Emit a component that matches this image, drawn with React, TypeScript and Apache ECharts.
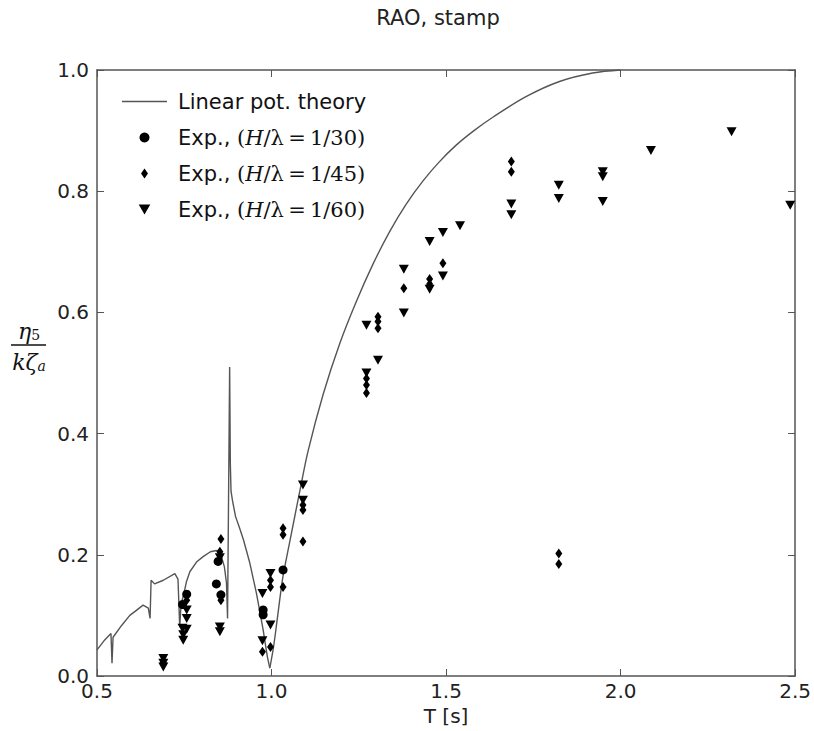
import React, { useEffect, useRef } from "react";
import * as echarts from "echarts";

// Linear potential theory curve, resonant part: [T, eta5/(k zeta_a)]
const theoryLow: number[][] = [
  [0.5, 0.043], [0.52, 0.058], [0.54, 0.07], [0.543, 0.021], [0.546, 0.064],
  [0.57, 0.083], [0.594, 0.1], [0.61, 0.107], [0.632, 0.117], [0.647, 0.112],
  [0.652, 0.095], [0.655, 0.158], [0.665, 0.152], [0.69, 0.158], [0.723, 0.169],
  [0.732, 0.16], [0.737, 0.081], [0.741, 0.12], [0.747, 0.131], [0.756, 0.155],
  [0.766, 0.172], [0.785, 0.188], [0.804, 0.197], [0.825, 0.205], [0.842, 0.207],
  [0.855, 0.2], [0.865, 0.18], [0.871, 0.153], [0.874, 0.095], [0.877, 0.3],
  [0.88, 0.51], [0.882, 0.35], [0.884, 0.305], [0.888, 0.29], [0.897, 0.263],
  [0.908, 0.245], [0.92, 0.224], [0.938, 0.186], [0.957, 0.136], [0.976, 0.076],
  [0.988, 0.032], [0.995, 0.013],
];

// Linear potential theory curve, smooth rising part
const theoryHigh: number[][] = [
  [0.995, 0.013], [1.005, 0.045], [1.014, 0.083], [1.024, 0.128], [1.033, 0.165],
  [1.05, 0.215], [1.062, 0.25], [1.081, 0.305], [1.105, 0.372], [1.148, 0.465],
  [1.195, 0.548], [1.243, 0.618], [1.291, 0.68], [1.338, 0.733], [1.385, 0.778],
  [1.434, 0.817], [1.48, 0.848], [1.529, 0.876], [1.58, 0.9], [1.634, 0.922],
  [1.729, 0.956], [1.825, 0.981], [1.92, 0.995], [2.0, 1.0],
];

// Experiments H/lambda = 1/30 (circles)
const exp30: number[][] = [
  [0.757, 0.135], [0.745, 0.118], [0.847, 0.189], [0.842, 0.152], [0.855, 0.134],
  [0.976, 0.109], [0.976, 0.101], [1.033, 0.175],
];

// Experiments H/lambda = 1/45 (thin diamonds)
const exp45: number[][] = [
  [0.855, 0.226], [0.852, 0.205], [0.855, 0.125], [0.997, 0.158], [0.997, 0.147],
  [0.974, 0.04], [0.997, 0.048], [1.033, 0.244], [1.033, 0.233], [1.033, 0.147],
  [1.09, 0.282], [1.09, 0.274], [1.09, 0.222], [1.272, 0.491], [1.272, 0.48],
  [1.272, 0.467], [1.305, 0.593], [1.305, 0.585], [1.305, 0.574], [1.379, 0.64],
  [1.453, 0.655], [1.453, 0.647], [1.491, 0.681], [1.687, 0.849], [1.687, 0.832],
  [1.823, 0.202], [1.823, 0.185], [0.69, 0.022], [0.757, 0.125],
];

// Experiments H/lambda = 1/60 (down triangles)
const exp60: number[][] = [
  [0.69, 0.029], [0.69, 0.021], [0.69, 0.015], [0.757, 0.109], [0.757, 0.095],
  [0.745, 0.079], [0.757, 0.077], [0.747, 0.068], [0.747, 0.059], [0.852, 0.081],
  [0.852, 0.073], [0.852, 0.195], [0.974, 0.136], [0.997, 0.169], [0.997, 0.084],
  [0.974, 0.058], [1.09, 0.315], [1.09, 0.29], [1.272, 0.579], [1.305, 0.521],
  [1.272, 0.5], [1.379, 0.671], [1.379, 0.599], [1.453, 0.717], [1.453, 0.638],
  [1.491, 0.732], [1.491, 0.66], [1.54, 0.743], [1.687, 0.779], [1.687, 0.761],
  [1.823, 0.81], [1.823, 0.788], [1.949, 0.832], [1.949, 0.824], [1.949, 0.783],
  [2.087, 0.867], [2.318, 0.898], [2.486, 0.777],
];

const xTicks = [0.5, 1.0, 1.5, 2.0, 2.5];
const yTicks = [0.0, 0.2, 0.4, 0.6, 0.8, 1.0];

const NAME_LINE = "Linear pot. theory";
const NAME_30 = "Exp., (H/λ=1/30)";
const NAME_45 = "Exp., (H/λ=1/45)";
const NAME_60 = "Exp., (H/λ=1/60)";

const TRI_DOWN = "path://M0,0L10,0L5,8.66Z";
const THIN_DIAMOND = "path://M3.5,0L7,5L3.5,10L0,5Z";
const LINE_ICON = "path://M0,0L45,0L45,1.4L0,1.4Z";

export default function App() {
  const ref = useRef<HTMLDivElement>(null);
  useEffect(() => {
    if (!ref.current) return;
    const chart = echarts.init(ref.current, undefined, { renderer: "svg" });
    const axisColor = "#555";
    const labelFont = { fontFamily: "DejaVu Sans", fontSize: 20, color: "#222" };
    const legendLabel = (ratio: string) =>
      `Exp., {s|(}{i|H}{s|/λ\u2009=\u20091/${ratio})}`;
    const lineStyle = { color: "#555", width: 1.4 };
    chart.setOption({
      animation: false,
      backgroundColor: "#fff",
      grid: { left: 97, right: 18, top: 70, bottom: 55 },
      xAxis: [
        {
          type: "value",
          min: xTicks[0],
          max: xTicks[xTicks.length - 1],
          interval: 0.5,
          name: "T [s]",
          nameLocation: "middle",
          nameGap: 28,
          nameTextStyle: { ...labelFont },
          axisLine: { lineStyle: { color: axisColor, width: 1.5 } },
          axisTick: { inside: true, length: 7, lineStyle: { color: axisColor } },
          axisLabel: { ...labelFont, margin: 5, formatter: (v: number) => v.toFixed(1) },
          splitLine: { show: false },
        },
        {
          type: "value",
          position: "top",
          min: xTicks[0],
          max: xTicks[xTicks.length - 1],
          interval: 0.5,
          axisLine: { onZero: false, lineStyle: { color: axisColor, width: 1.5 } },
          axisTick: { inside: true, length: 7, lineStyle: { color: axisColor } },
          axisLabel: { show: false },
          splitLine: { show: false },
        },
      ],
      yAxis: [
        {
          type: "value",
          min: yTicks[0],
          max: yTicks[yTicks.length - 1],
          interval: 0.2,
          axisLine: { show: true, onZero: false, lineStyle: { color: axisColor, width: 1.5 } },
          axisTick: { show: true, inside: true, length: 7, lineStyle: { color: axisColor } },
          axisLabel: { ...labelFont, margin: 8, formatter: (v: number) => v.toFixed(1) },
          splitLine: { show: false },
        },
        {
          type: "value",
          position: "right",
          min: yTicks[0],
          max: yTicks[yTicks.length - 1],
          interval: 0.2,
          axisLine: { show: true, onZero: false, lineStyle: { color: axisColor, width: 1.5 } },
          axisTick: { show: true, inside: true, length: 7, lineStyle: { color: axisColor } },
          axisLabel: { show: false },
          splitLine: { show: false },
        },
      ],
      legend: {
        orient: "vertical",
        left: 117,
        top: 86,
        itemWidth: 45,
        itemHeight: 10,
        itemGap: 15,
        symbolKeepAspect: true,
        data: [
          { name: NAME_LINE, icon: LINE_ICON },
          { name: NAME_30, icon: "circle" },
          { name: NAME_45, icon: THIN_DIAMOND },
          { name: NAME_60, icon: TRI_DOWN },
        ],
        formatter: (name: string) => {
          if (name === NAME_30) return legendLabel("30");
          if (name === NAME_45) return legendLabel("45");
          if (name === NAME_60) return legendLabel("60");
          return name;
        },
        textStyle: {
          fontFamily: "DejaVu Sans",
          fontSize: 21,
          color: "#111",
          padding: [0, 0, 0, 6],
          rich: {
            i: { fontFamily: "DejaVu Serif", fontStyle: "italic", fontSize: 21, color: "#111" },
            s: { fontFamily: "DejaVu Serif", fontSize: 21, color: "#111" },
          },
        },
      },
      graphic: [
        {
          type: "text",
          x: 438,
          y: 7,
          style: {
            text: "RAO, stamp",
            fontFamily: "DejaVu Sans",
            fontSize: 21,
            fill: "#222",
            textAlign: "center",
            textVerticalAlign: "top",
          },
        },
        {
          type: "text",
          x: 29,
          y: 331,
          style: {
            text: "{i|η}{s|5}",
            textAlign: "center",
            textVerticalAlign: "middle",
            rich: {
              i: { fontFamily: "DejaVu Serif", fontStyle: "italic", fontSize: 22, fill: "#111" },
              s: { fontFamily: "DejaVu Serif", fontSize: 14, fill: "#111", verticalAlign: "bottom" },
            },
          },
        },
        {
          type: "line",
          shape: { x1: 11, y1: 345, x2: 46, y2: 345 },
          style: { stroke: "#111", lineWidth: 1.5 },
        },
        {
          type: "text",
          x: 29,
          y: 362,
          style: {
            text: "{i|kζ}{s|a}",
            textAlign: "center",
            textVerticalAlign: "middle",
            rich: {
              i: { fontFamily: "DejaVu Serif", fontStyle: "italic", fontSize: 22, fill: "#111" },
              s: { fontFamily: "DejaVu Serif", fontStyle: "italic", fontSize: 14, fill: "#111", verticalAlign: "bottom" },
            },
          },
        },
      ],
      series: [
        {
          name: NAME_LINE,
          type: "line",
          data: theoryLow,
          showSymbol: false,
          symbol: "none",
          clip: true,
          lineStyle,
          itemStyle: { color: "#555" },
          z: 2,
        },
        {
          name: NAME_LINE,
          type: "line",
          data: theoryHigh,
          showSymbol: false,
          symbol: "none",
          smooth: 0.35,
          clip: true,
          lineStyle,
          itemStyle: { color: "#555" },
          z: 2,
        },
        {
          name: NAME_30,
          type: "scatter",
          data: exp30,
          symbol: "circle",
          symbolSize: 9,
          itemStyle: { color: "#000", opacity: 1 },
          z: 3,
        },
        {
          name: NAME_45,
          type: "scatter",
          data: exp45,
          symbol: THIN_DIAMOND,
          symbolSize: [7, 10],
          itemStyle: { color: "#000", opacity: 1 },
          z: 3,
        },
        {
          name: NAME_60,
          type: "scatter",
          data: exp60,
          symbol: TRI_DOWN,
          symbolSize: [10, 9],
          itemStyle: { color: "#000", opacity: 1 },
          z: 3,
        },
      ],
    });
    return () => chart.dispose();
  }, []);
  return (
    <div
      ref={ref}
      style={{ position: "fixed", left: 0, top: 0, width: 814, height: 731, background: "#fff" }}
    />
  );
}
